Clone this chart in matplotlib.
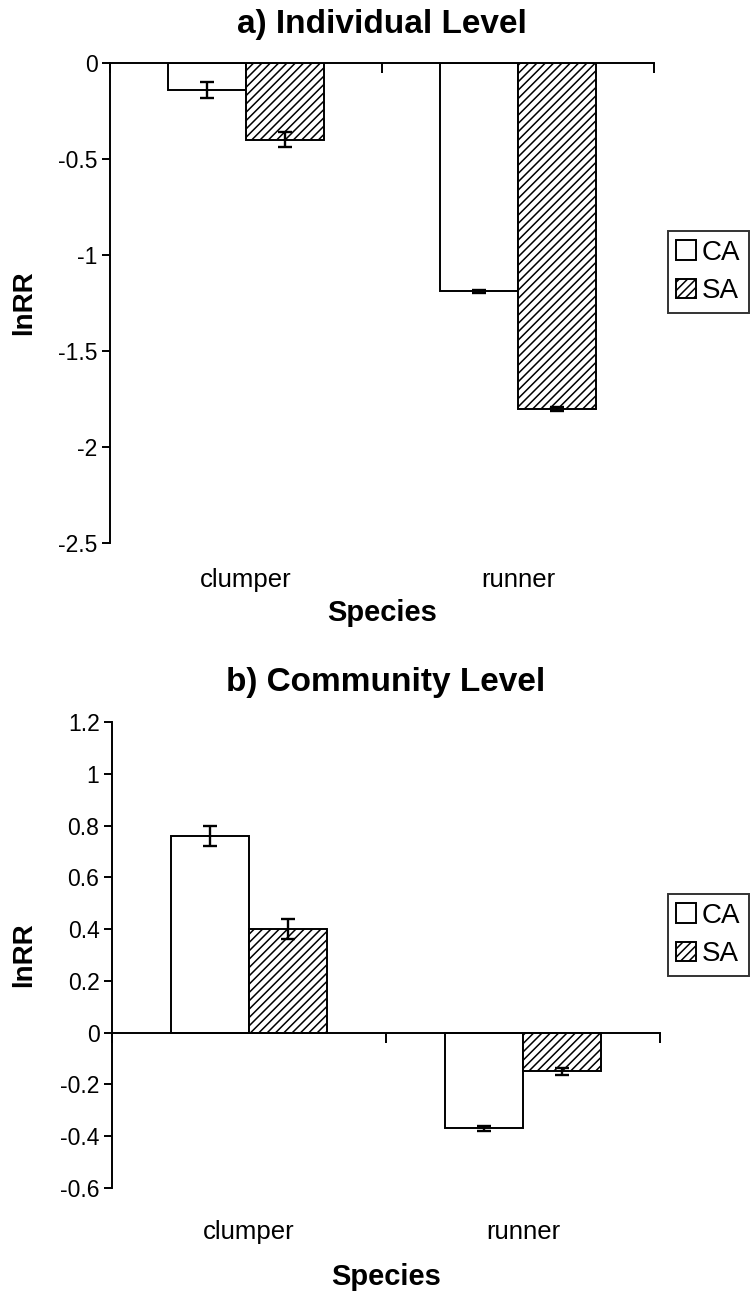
import matplotlib
matplotlib.use('Agg')
import matplotlib.pyplot as plt
import matplotlib.transforms as mtransforms
import numpy as np

species = ['clumper', 'runner']
groups = ['CA', 'SA']

# a) individual level
ind_ca = [-0.14, -1.19]
ind_sa = [-0.40, -1.80]
ind_ca_err = [0.04, 0.01]
ind_sa_err = [0.04, 0.01]
ind_ticks = [0, -0.5, -1, -1.5, -2, -2.5]
ind_labels = ['0', '-0.5', '-1', '-1.5', '-2', '-2.5']

# b) community level
com_ca = [0.76, -0.37]
com_sa = [0.40, -0.15]
com_ca_err = [0.04, 0.01]
com_sa_err = [0.04, 0.012]
com_ticks = [1.2, 1, 0.8, 0.6, 0.4, 0.2, 0, -0.2, -0.4, -0.6]
com_labels = ['1.2', '1', '0.8', '0.6', '0.4', '0.2', '0', '-0.2', '-0.4', '-0.6']

plt.rcParams['font.family'] = ['Liberation Sans', 'DejaVu Sans']
plt.rcParams['hatch.linewidth'] = 1.1

fig = plt.figure(figsize=(7.54, 12.94), dpi=100)
W, H = 754, 1294


def panel(rect, ca, sa, ca_err, sa_err, ticks, labels, title, title_y, leg_y, lab_off, sp_off):
    ax = fig.add_axes(rect)
    x = np.arange(len(species))
    w = 1 / 3.5
    ax.bar(x - w / 2, ca, w, color='white', edgecolor='black', linewidth=1.4, label=groups[0])
    ax.bar(x + w / 2, sa, w, color='white', edgecolor='black', linewidth=1.4,
           hatch='////', label=groups[1])
    ax.errorbar(x - w / 2, ca, yerr=ca_err, fmt='none', ecolor='black', elinewidth=1.7,
                capsize=5, capthick=1.7)
    ax.errorbar(x + w / 2, sa, yerr=sa_err, fmt='none', ecolor='black', elinewidth=1.7,
                capsize=5, capthick=1.7)
    ax.set_xlim(-0.5, 1.5)
    ax.set_ylim(min(ticks), max(ticks))
    ax.spines['top'].set_visible(False)
    ax.spines['right'].set_visible(False)
    ax.spines['bottom'].set_position(('data', 0))
    for s in ('left', 'bottom'):
        ax.spines[s].set_linewidth(1.4)
    ax.set_xticks([-0.5, 0.5, 1.5])
    ax.set_xticklabels([])
    ax.tick_params(axis='x', direction='out', length=7, width=1.4)
    ax.set_yticks(ticks)
    ax.set_yticklabels(labels)
    ax.tick_params(axis='y', direction='out', length=6, width=1.4, labelsize=16.5, pad=3)
    for i, s in enumerate(species):
        ax.annotate(s, (x[i], 0), xycoords=('data', 'axes fraction'), xytext=(0, -lab_off),
                    textcoords='offset pixels', ha='center', va='center', fontsize=18.5)
    ax.annotate('Species', (0.5, 0), xycoords='axes fraction', xytext=(0, -sp_off),
                textcoords='offset pixels', ha='center', va='center', fontsize=21,
                fontweight='bold')
    ax.set_ylabel('lnRR', fontsize=20, fontweight='bold')
    tr = mtransforms.blended_transform_factory(fig.transFigure, ax.transAxes)
    ax.yaxis.set_label_coords(24 / W, 0.5, transform=tr)
    ax.yaxis.label.set_va('center')
    fig.text(0.5 + (rect[0] + rect[2] / 2 - 0.5), 1 - title_y / H, title, ha='center',
             va='center', fontsize=24, fontweight='bold')
    leg = ax.legend(loc='center left', bbox_to_anchor=(668 / W, 1 - leg_y / H),
                    bbox_transform=fig.transFigure, frameon=True, fancybox=False,
                    edgecolor='black', fontsize=20, handlelength=0.72, handleheight=0.72,
                    handletextpad=0.2, borderpad=0.3, labelspacing=0.45, borderaxespad=0)
    leg.get_frame().set_linewidth(1.4)
    return ax


panel([110 / W, 1 - 543 / H, 544 / W, 480 / H], ind_ca, ind_sa, ind_ca_err, ind_sa_err,
      ind_ticks, ind_labels, 'a) Individual Level', 25, 272, 37, 70)
panel([112 / W, 1 - 1188 / H, 548 / W, 466 / H], com_ca, com_sa, com_ca_err, com_sa_err,
      com_ticks, com_labels, 'b) Community Level', 682, 935, 44, 89)

fig.savefig('out.png', dpi=100)
